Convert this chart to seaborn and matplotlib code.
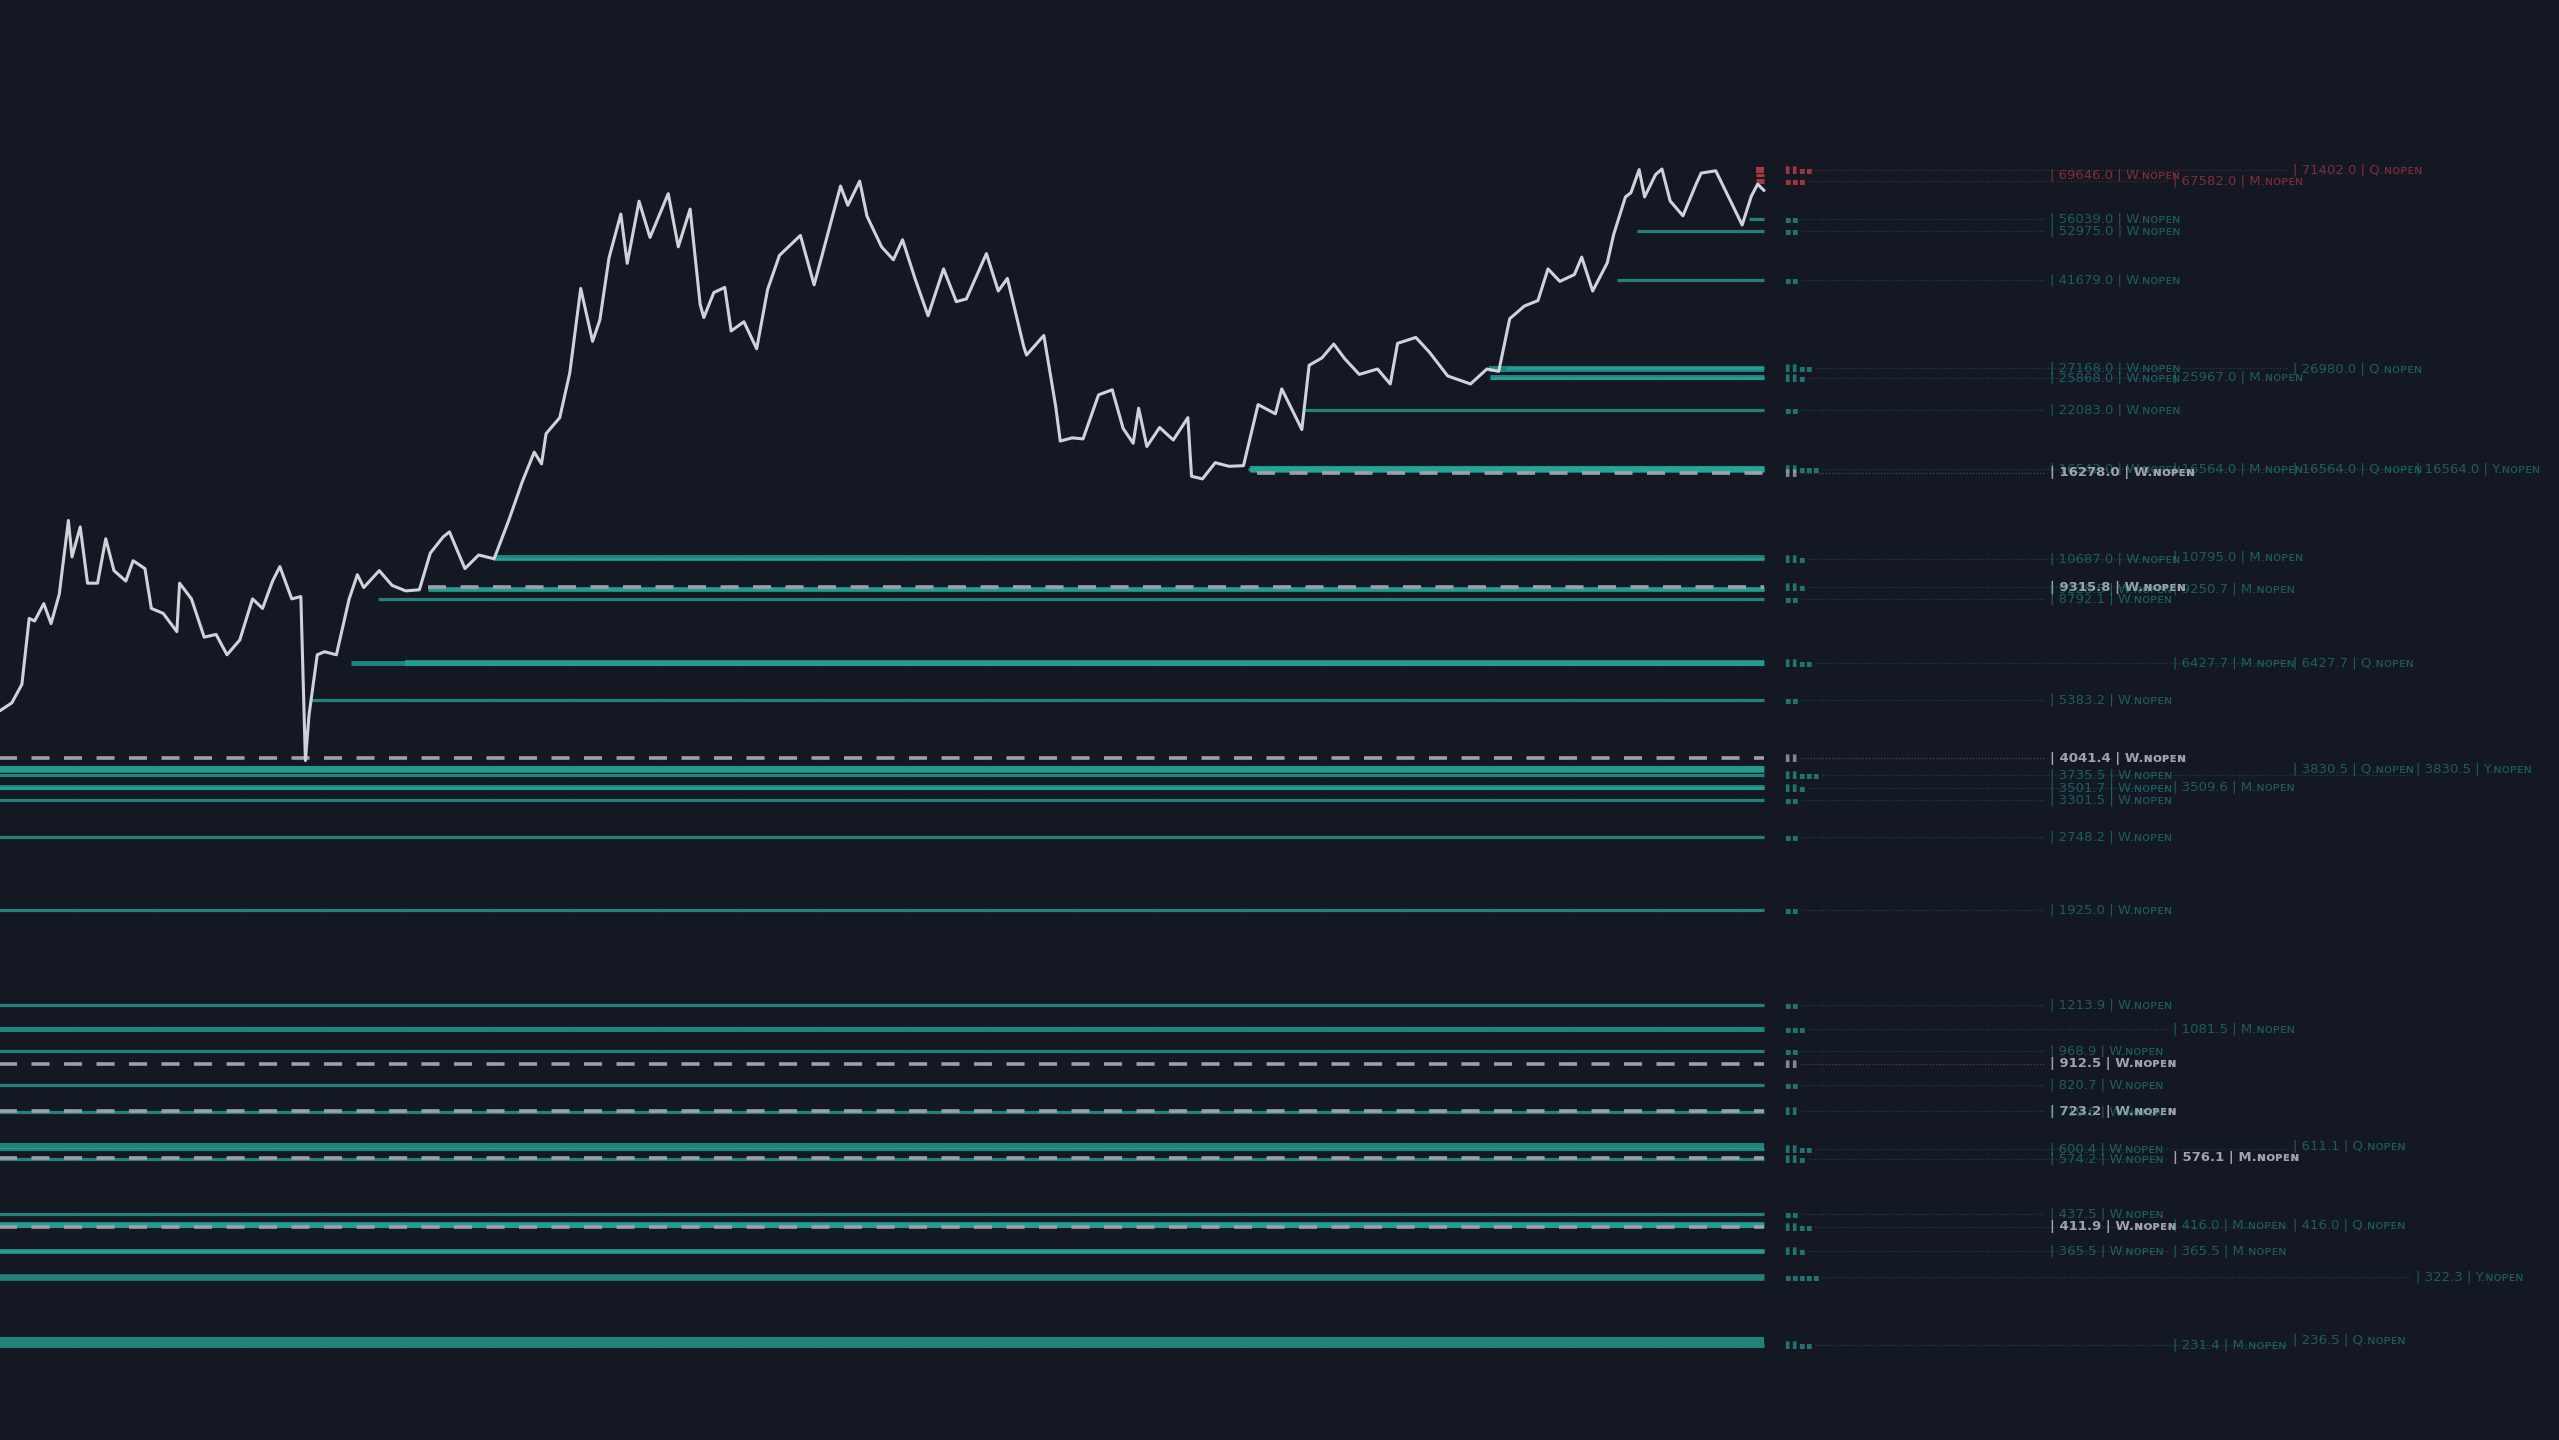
import numpy as np
import pandas as pd
import seaborn as sns
import matplotlib.pyplot as plt
import matplotlib.dates as mdates
from matplotlib.ticker import NullLocator

# ---- price path (approximate closes) ----
price_dates = [
    "2019-04-12", "2019-04-25", "2019-05-06", "2019-05-14", "2019-05-20", "2019-05-30", "2019-06-07",
    "2019-06-16", "2019-06-26", "2019-06-30", "2019-07-09", "2019-07-17", "2019-07-28", "2019-08-06",
    "2019-08-15", "2019-08-28", "2019-09-05", "2019-09-18", "2019-09-25", "2019-10-08", "2019-10-23",
    "2019-10-26", "2019-11-08", "2019-11-22", "2019-12-05", "2019-12-17", "2019-12-31", "2020-01-14",
    "2020-01-25", "2020-02-05", "2020-02-13", "2020-02-26", "2020-03-07", "2020-03-12", "2020-03-16",
    "2020-03-25", "2020-04-02", "2020-04-15", "2020-04-29", "2020-05-08", "2020-05-15", "2020-06-01",
    "2020-06-15", "2020-06-30", "2020-07-15", "2020-07-27", "2020-08-10", "2020-08-17", "2020-09-03",
    "2020-09-18", "2020-10-05", "2020-10-21", "2020-11-05", "2020-11-18", "2020-11-26", "2020-12-01",
    "2020-12-16", "2020-12-27", "2021-01-08", "2021-01-21", "2021-01-29", "2021-02-08", "2021-02-21",
    "2021-02-28", "2021-03-13", "2021-03-25", "2021-04-14", "2021-04-25", "2021-05-08", "2021-05-19",
    "2021-05-23", "2021-06-03", "2021-06-15", "2021-06-22", "2021-07-06", "2021-07-20", "2021-08-01",
    "2021-08-14", "2021-09-06", "2021-09-21", "2021-10-01", "2021-10-20", "2021-10-28", "2021-11-10",
    "2021-11-18", "2021-12-04", "2021-12-17", "2021-12-27", "2022-01-10", "2022-01-24", "2022-02-10",
    "2022-02-24", "2022-03-07", "2022-03-29", "2022-04-11", "2022-04-21", "2022-05-09", "2022-05-12",
    "2022-05-31", "2022-06-13", "2022-06-18", "2022-07-01", "2022-07-13", "2022-07-30", "2022-08-14",
    "2022-08-26", "2022-09-06", "2022-09-12", "2022-09-21", "2022-10-05", "2022-10-20", "2022-11-05",
    "2022-11-09", "2022-11-21", "2022-12-05", "2022-12-20", "2023-01-05", "2023-01-21", "2023-02-09",
    "2023-02-16", "2023-03-10", "2023-03-18", "2023-04-01", "2023-04-14", "2023-04-26", "2023-05-12",
    "2023-06-01", "2023-06-15", "2023-06-23", "2023-07-13", "2023-07-28", "2023-08-17", "2023-09-11",
    "2023-09-29", "2023-10-12", "2023-10-24", "2023-11-09", "2023-11-24", "2023-12-05", "2023-12-18",
    "2024-01-03", "2024-01-11", "2024-01-23", "2024-02-08", "2024-02-15", "2024-02-28", "2024-03-05",
    "2024-03-14", "2024-03-20", "2024-04-01", "2024-04-08", "2024-04-17", "2024-05-01", "2024-05-15",
    "2024-05-21", "2024-06-06", "2024-06-24", "2024-07-05", "2024-07-15", "2024-07-22", "2024-07-29",
]
price_values = [
    5100, 5300, 5800, 8000, 7900, 8600, 7800,
    9000, 12900, 10800, 12500, 9500, 9500, 11800,
    10100, 9600, 10600, 10200, 8400, 8200, 7500,
    9500, 8800, 7300, 7400, 6700, 7200, 8800,
    8400, 9600, 10300, 8800, 8900, 4000, 5000,
    6700, 6800, 6700, 8800, 9900, 9300, 10100,
    9400, 9150, 9200, 11000, 11900, 12200, 10200,
    10900, 10700, 12900, 15600, 18000, 17000, 19700,
    21300, 26500, 40000, 30900, 34300, 46400, 57500,
    45200, 61200, 51300, 63500, 49000, 58900, 37000,
    34700, 39200, 40200, 32500, 34000, 29800, 39800,
    47000, 51800, 40700, 48000, 65900, 60000, 67500,
    56900, 49000, 46000, 50700, 41800, 35000, 44000,
    37500, 38000, 47400, 39500, 42000, 30100, 28900,
    31800, 22500, 19000, 19300, 19200, 23800, 24400,
    20200, 18800, 22300, 18500, 20300, 19100, 21300,
    16000, 15800, 17100, 16800, 16850, 22700, 21700,
    24500, 20100, 27500, 28500, 30500, 28400, 26300,
    27000, 25100, 30600, 31500, 29300, 26100, 25100,
    27000, 26700, 34500, 36700, 37700, 44000, 41400,
    42800, 46600, 39500, 45300, 52000, 62500, 63800,
    71400, 62500, 69700, 71600, 61300, 57000, 66200,
    70200, 71000, 60300, 54500, 62700, 66500, 64500,
]

# ---- naked open levels ----
level_price = [71402.0, 69646.0, 67582.0, 56039.0, 52975.0, 41679.0, 27168.0, 26980.0, 25868.0, 25967.0,
               22083.0, 16542.0, 16564.0, 16564.0, 16564.0, 16278.0, 10687.0, 10795.0, 9315.8, 9228.5,
               9250.7, 8792.1, 6427.7, 6427.7, 5383.2, 4041.4, 3735.5, 3830.5, 3830.5, 3501.7,
               3509.6, 3301.5, 2748.2, 1925.0, 1213.9, 1081.5, 968.9, 912.5, 820.7, 723.2,
               719.6, 600.4, 611.1, 574.2, 576.1, 437.5, 411.9, 416.0, 416.0, 365.5,
               365.5, 322.3, 231.4, 236.5]
level_tf = ["Q", "W", "M", "W", "W", "W", "W", "Q", "W", "M",
            "W", "W", "M", "Q", "Y", "W", "W", "M", "W", "W",
            "M", "W", "M", "Q", "W", "W", "W", "Q", "Y", "W",
            "M", "W", "W", "W", "W", "M", "W", "W", "W", "W",
            "W", "W", "Q", "W", "M", "W", "W", "M", "Q", "W",
            "M", "Y", "M", "Q"]
level_start = ["2024-07-20", "2024-07-20", "2024-07-20", "2024-07-12", "2024-03-12", "2024-02-19",
               "2023-10-20", "2023-10-01", "2023-10-02", "2023-10-02", "2023-03-13", "2023-01-10",
               "2023-01-12", "2023-01-12", "2023-01-12", "2023-01-20", "2020-10-04", "2020-10-04",
               "2020-07-24", "2020-07-24", "2020-07-24", "2020-05-31", "2020-05-01", "2020-06-29",
               "2020-03-17", "2019-01-01", "2019-01-01", "2019-01-01", "2019-01-01", "2019-01-01",
               "2019-01-01", "2019-01-01", "2019-01-01", "2019-01-01", "2019-01-01", "2019-01-01",
               "2019-01-01", "2019-01-01", "2019-01-01", "2019-01-01", "2019-01-01", "2019-01-01",
               "2019-01-01", "2019-01-01", "2019-01-01", "2019-01-01", "2019-01-01", "2019-01-01",
               "2019-01-01", "2019-01-01", "2019-01-01", "2019-01-01", "2019-01-01", "2019-01-01"]
level_grey = [0, 0, 0, 0, 0, 0, 0, 0, 0, 0,
              0, 0, 0, 0, 0, 1, 0, 0, 1, 0,
              0, 0, 0, 0, 0, 1, 0, 0, 0, 0,
              0, 0, 0, 0, 0, 0, 0, 1, 0, 1,
              0, 0, 0, 0, 1, 0, 1, 0, 0, 0,
              0, 0, 0, 0]
level_row = [0, 0, 1, 2, 3, 4, 5, 5, 6, 6,
             7, 8, 8, 8, 8, 9, 10, 10, 11, 11,
             11, 12, 13, 13, 14, 15, 16, 16, 16, 17,
             17, 18, 19, 20, 21, 22, 23, 24, 25, 26,
             26, 27, 27, 28, 28, 29, 30, 30, 30, 31,
             31, 32, 33, 33]

BG = '#141823'
TEAL = '#26a69a'
RED = '#d8434d'
GREY = '#9da0aa'
PRICE = '#cfd2da'

sns.set_theme(style='dark', rc={'axes.facecolor': BG, 'figure.facecolor': BG})
plt.rcParams['font.family'] = ['Liberation Sans Narrow', 'DejaVu Sans']

fig = plt.figure(figsize=(25.59, 14.40), dpi=100)
ax = fig.add_axes([0, 0, 1, 1])
ax.set_yscale('log')

x0 = pd.Timestamp('2019-04-12')
x1 = x0 + pd.Timedelta(days=2807)
last = pd.Timestamp(price_dates[-1])
last_close = price_values[-1]

rank = {'W': 2, 'M': 3, 'Q': 4, 'Y': 5}
line_w = {'W': 2.3, 'M': 3.6, 'Q': 4.4, 'Y': 4.8}
col = {'W': 0.8010, 'M': 0.8490, 'Q': 0.8960, 'Y': 0.9440}

# level lines run from the open until the last bar
for p, tf, st, grey in zip(level_price, level_tf, level_start, level_grey):
    s = max(pd.Timestamp(st), x0 - pd.Timedelta(days=10))
    if grey:
        ax.hlines(p, s, last, color=GREY, lw=2.6, linestyles=(0, (5, 4)), zorder=3)
    else:
        c = RED if p > last_close else TEAL
        ax.hlines(p, s, last, color=c, lw=line_w[tf], alpha=0.75, zorder=2)

df = pd.DataFrame({'date': pd.to_datetime(price_dates), 'close': price_values})
sns.lineplot(data=df, x='date', y='close', color=PRICE, lw=2.2, ax=ax, zorder=5)

# right side labels
trans = ax.get_yaxis_transform()
label_fs = 9.5
for r in sorted(set(level_row)):
    idx = [i for i, rr in enumerate(level_row) if rr == r]
    p0 = level_price[idx[0]]
    all_grey = all(level_grey[i] for i in idx)
    if p0 > last_close:
        c, a = RED, 0.7
    elif all_grey:
        c, a = GREY, 0.8
    else:
        c, a = TEAL, 0.65
    n = max(rank[level_tf[i]] for i in idx)
    n_sq = 2 if (len(idx) > 1 or all_grey) else 0
    gx = 0.6971
    for k in range(n):
        ax.text(gx + k * 0.00275, p0, '▮' if k < n_sq else '▪', transform=trans, color=c, alpha=a,
                fontsize=7, ha='left', va='center', family='DejaVu Sans', zorder=6)
    lead_end = max(col[level_tf[i]] for i in idx) - 0.002
    ax.plot([gx + n * 0.00275 + 0.001, lead_end], [p0, p0], transform=trans, color=c, alpha=a * 0.4,
            lw=1.0, ls=(0, (1, 1.2)), zorder=4)
    for i in idx:
        tf = level_tf[i]
        g = level_grey[i]
        txt = f"| {level_price[i]:.1f} | {tf}.ɴᴏᴘᴇɴ"
        ax.text(col[tf], level_price[i], txt, transform=trans, color='#b8bbc4' if g else c,
                alpha=0.85 if g else a * 0.75, fontsize=label_fs, fontweight='bold' if g else 'normal',
                ha='left', va='center', zorder=7)

ax.set_xlim(x0, x1)
ax.set_ylim(145.5, 163300)
ax.xaxis.set_major_locator(mdates.MonthLocator(bymonth=[1, 4, 7, 10]))
ax.yaxis.set_major_locator(NullLocator())
ax.yaxis.set_minor_locator(NullLocator())
ax.grid(axis='x', color='#181c28', lw=1.0)
ax.grid(axis='y', visible=False)
ax.tick_params(labelbottom=False, labelleft=False, length=0)
ax.set_xlabel('')
ax.set_ylabel('')
for sp in ax.spines.values():
    sp.set_visible(False)
legend = ax.get_legend()
if legend is not None:
    legend.remove()

fig.savefig('out.png', dpi=100, facecolor=BG)
